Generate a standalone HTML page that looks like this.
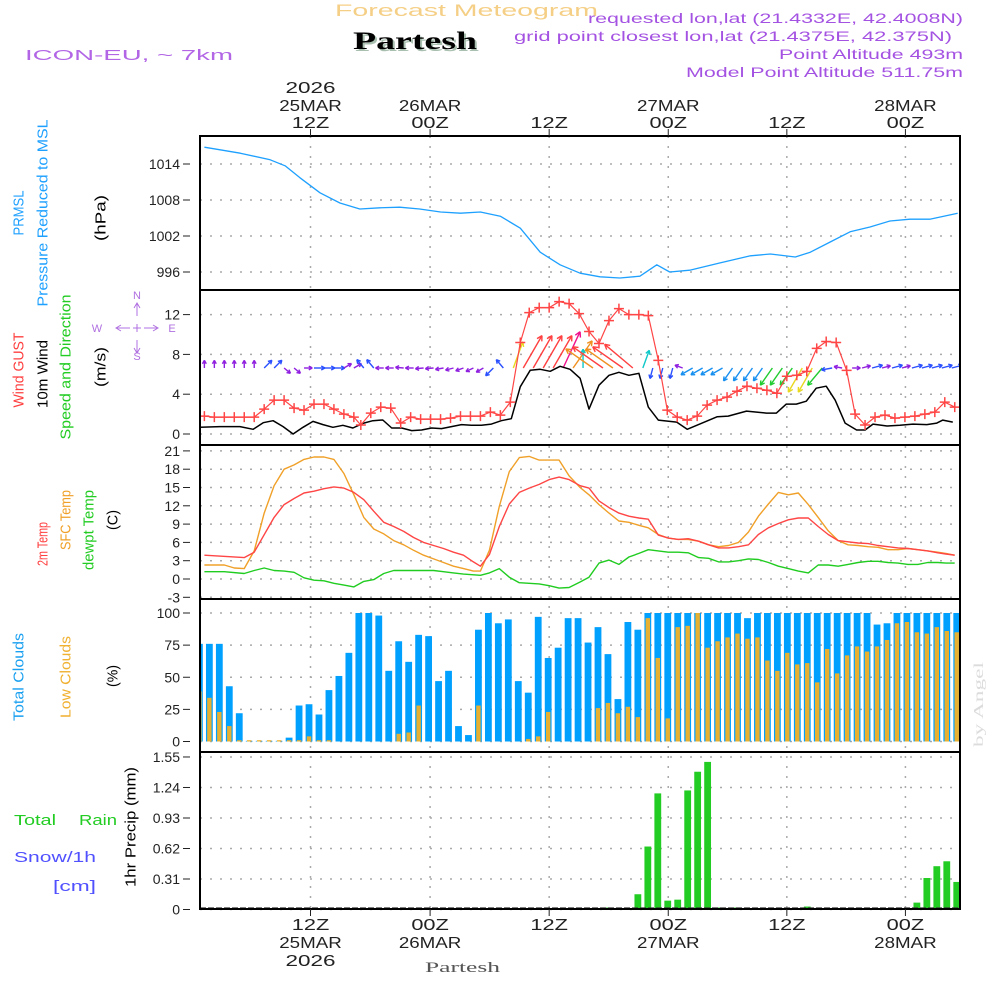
<!DOCTYPE html>
<html><head><meta charset="utf-8"><style>
html,body{margin:0;padding:0;background:#fff;}
svg{display:block;font-family:"Liberation Sans",sans-serif;}
</style></head><body>
<svg id="chart" width="1000" height="1000" viewBox="0 0 1000 1000" xmlns="http://www.w3.org/2000/svg">
<g>
<text x="335" y="16" font-size="17" fill="#f5cf86" textLength="263" lengthAdjust="spacingAndGlyphs">Forecast Meteogram</text>
<text x="355" y="51" font-size="25" font-weight="bold" font-family="Liberation Serif, serif" fill="#a9c0b0" textLength="124" lengthAdjust="spacingAndGlyphs">Partesh</text>
<text x="353" y="49" font-size="25" font-weight="bold" font-family="Liberation Serif, serif" fill="#000" textLength="124" lengthAdjust="spacingAndGlyphs">Partesh</text>
<text x="25" y="60" font-size="15" fill="#b266e6" textLength="208" lengthAdjust="spacingAndGlyphs">ICON-EU, ~ 7km</text>
<text x="588" y="23" font-size="14" fill="#a452e2" textLength="375" lengthAdjust="spacingAndGlyphs">requested lon,lat (21.4332E, 42.4008N)</text>
<text x="514" y="41" font-size="14" fill="#a452e2" textLength="438" lengthAdjust="spacingAndGlyphs">grid point closest lon,lat (21.4375E, 42.375N)</text>
<text x="779" y="59" font-size="14" fill="#a452e2" textLength="184" lengthAdjust="spacingAndGlyphs">Point Altitude 493m</text>
<text x="686" y="77" font-size="14" fill="#a452e2" textLength="277" lengthAdjust="spacingAndGlyphs">Model Point Altitude 511.75m</text>
</g>
<g id="grid"></g>
<g id="marks"></g>
<g id="frames"></g>
<g id="labels"></g>
</svg>
<script>
// ---- time axis (hour index) ----
const timeTickIdx = [11.15, 23.15, 35.1, 47.05, 58.95, 70.85];
const timeTop1 = ["2026","","","","",""];
const timeTop2 = ["25MAR","26MAR","","27MAR","","28MAR"];
const timeTop3 = ["12Z","00Z","12Z","00Z","12Z","00Z"];

// ---- pressure ----
const presIdx = [0.5,4.1,7.1,8.6,10.1,12.1,14.1,16.1,18.1,20.1,22.1,24.2,26.2,28.2,30.2,32.2,34.2,36.2,38.2,40.2,42.2,44.2,45.9,47.2,49.2,52.2,55.3,57.3,59.8,61.3,63.3,65.3,67.3,69.3,71.3,73.3,76.1];
const presVal = [1016.8,1015.8,1014.7,1013.7,1011.7,1009.2,1007.5,1006.5,1006.7,1006.8,1006.5,1006.0,1005.8,1006.0,1005.3,1003.3,999.3,997.2,995.8,995.2,995.0,995.3,997.2,996.0,996.3,997.5,998.7,999.0,998.5,999.3,1001.0,1002.7,1003.5,1004.5,1004.8,1004.8,1005.8];
const presTicks = [996,1002,1008,1014];

// ---- wind ----
const gustIdx = [0.5,1.5,2.5,3.5,4.5,5.5,6.5,7.5,8.5,9.5,10.5,11.5,12.5,13.5,14.5,15.5,16.2,17.2,18.2,19.2,20.2,21.2,22.2,23.2,24.2,25.2,26.2,27.2,28.2,29.2,30.2,31.2,32.2,33.1,34.1,35.1,36.1,37.1,38.1,39.1,40.1,41.1,42.1,43.1,44.1,45.05,46.05,46.95,47.95,48.95,49.95,50.95,51.95,52.95,53.95,54.95,55.95,56.95,57.95,58.95,59.95,60.95,61.95,62.9,63.9,64.95,65.8,66.8,67.8,68.8,69.8,70.8,71.8,72.8,73.8,74.8,75.8];
const gustVal = [1.8,1.7,1.7,1.7,1.7,1.7,2.5,3.4,3.4,2.6,2.4,3.0,3.0,2.5,2.0,1.7,0.9,2.1,2.7,2.6,1.1,1.7,1.5,1.5,1.5,1.6,1.8,1.8,1.8,2.2,1.9,3.2,9.2,12.2,12.7,12.7,13.3,13.1,12.1,10.3,9.1,11.4,12.6,12.0,12.0,11.9,7.4,2.4,1.7,1.4,1.8,2.9,3.4,3.7,4.3,4.8,4.6,4.4,4.1,5.8,5.9,6.3,8.6,9.3,9.2,6.4,2.0,0.9,1.7,1.9,1.6,1.7,1.8,2.0,2.2,3.2,2.7];
const windIdx = [0.06,2.07,4.07,5.4,6.4,7.4,8.4,9.4,10.4,11.4,12.4,13.4,14.4,15.4,16.4,17.4,18.4,19.3,20.3,21.3,22.3,23.3,24.3,25.3,26.3,27.3,28.3,29.3,30.3,31.3,32.2,33.2,34.2,35.2,36.2,37.2,38.2,39.1,40.1,41.1,42.1,43.1,44.1,45.05,46.05,47.9,48.95,51.97,53.07,54.9,56.9,57.9,58.9,59.9,60.9,61.9,62.9,63.8,64.8,65.95,66.8,67.6,69.0,70.3,71.6,73.0,74.0,74.6,75.6];
const windVal = [0.67,0.74,0.74,0.47,1.14,1.34,0.74,0.0,0.67,1.27,0.94,0.67,0.87,0.6,1.07,1.34,1.41,0.6,0.6,0.34,0.4,0.6,0.54,0.74,0.94,0.87,0.87,1.0,1.34,1.54,4.75,6.4,6.5,6.3,6.8,6.5,5.6,2.5,4.9,5.9,6.2,5.9,6.1,2.7,1.4,1.2,0.47,1.74,1.8,2.3,2.1,2.1,3.0,3.0,3.3,4.6,4.8,3.4,1.1,0.4,0.4,1.0,0.8,0.87,1.0,0.94,1.1,1.4,1.2];
const arrowDir = [0,0,0,0,0,0,45,45,130,130,90,90,90,90,60,60,320,320,270,270,275,270,265,265,260,255,250,245,240,225,320,20,30,30,30,30,25,35,0,305,305,305,305,310,20,195,195,195,290,240,240,240,240,215,215,215,215,215,215,215,210,210,220,260,280,90,75,75,75,75,75,75,75,75,75,75];
const arrowSpeed = [0.7,0.7,0.7,0.7,0.7,0.7,1.3,1.3,0.8,0.8,0.8,1.3,1.3,1.3,0.9,0.9,1.3,1.3,0.8,0.8,0.8,0.8,0.8,0.8,0.8,0.8,0.8,0.8,0.8,1.3,1.3,4.5,6.3,6.3,6.3,6.3,6.8,5.5,2.8,5.5,6.2,5.5,6.2,6.2,2.8,1.3,1.3,1.3,0.8,1.8,1.8,1.8,1.8,2.2,2.2,2.2,2.2,3.2,3.2,3.2,4.5,4.5,3.5,1.3,0.8,0.8,0.9,1.3,0.9,1.3,0.9,1.3,1.3,1.3,1.3,1.3];
const windTicks = [0,4,8,12];

// ---- temperature ----
const t2Idx = [0.5,4.5,5.5,7.5,8.5,9.5,10.5,11.5,12.5,13.5,14.5,15.5,16.5,17.5,18.5,19.5,20.5,21.5,22.5,23.5,24.5,25.5,26.5,27.5,28.2,29.1,30.1,31.1,32.1,33.1,34.1,35.1,36.1,37.1,38.2,39.1,40.1,41.1,42.1,43.1,44.1,45.05,46.05,47.05,48.05,49.05,50.1,51.1,52.1,53.1,54.1,55.1,56.1,57.1,58.1,59.1,60.1,61.1,62.1,63.1,64.1,65.1,66.1,67.1,68.1,69.1,70.1,71.1,72.1,73.1,74.1,74.9,75.8];
const t2Val = [3.9,3.5,4.4,10.1,12.2,13.2,14.1,14.4,14.8,15.1,14.9,14.2,13.0,11.1,9.3,8.6,7.8,6.8,6.0,5.5,5.0,4.4,3.9,2.8,2.1,4.0,8.6,12.3,14.2,14.9,15.5,16.3,16.7,16.3,15.3,14.9,12.8,11.7,10.8,10.3,10.0,9.8,7.2,6.7,6.5,6.6,6.2,5.6,5.1,5.1,5.3,5.6,7.3,8.4,9.1,9.7,10.0,10.0,8.6,7.3,6.3,6.1,5.9,5.8,5.5,5.3,5.1,5.0,4.8,4.6,4.3,4.1,3.9];
const sfcIdx = [0.5,2.5,3.5,4.5,5.5,6.5,7.5,8.5,9.5,10.5,11.5,12.5,13.5,14.5,15.5,16.5,17.5,18.5,19.5,20.5,21.5,22.5,23.5,24.5,25.5,26.5,27.5,28.2,29.1,30.1,31.1,32.1,33.1,34.1,35.1,36.1,37.1,38.2,39.1,40.1,41.1,42.1,43.1,44.1,45.05,46.05,47.05,48.05,49.05,50.1,51.1,52.1,53.1,54.1,55.1,56.1,57.1,58.1,59.1,60.1,61.1,62.1,63.1,64.1,65.1,66.1,67.1,68.1,69.1,70.1,71.1,72.1,73.1,74.1,74.9,75.8];
const sfcVal = [2.3,2.3,1.8,1.7,4.6,10.8,15.3,18.0,18.7,19.6,20.0,20.0,19.6,17.3,13.8,10.1,8.2,7.4,6.3,5.6,4.7,3.9,3.3,2.7,2.1,1.7,1.3,1.3,4.7,11.9,17.6,19.9,20.1,19.5,19.5,19.5,16.9,15.0,13.8,12.2,10.8,9.5,9.3,8.8,8.4,7.3,6.7,6.5,6.5,6.2,5.6,5.3,5.5,6.0,7.7,10.3,12.3,14.2,13.8,14.1,12.2,10.1,7.9,6.3,5.6,5.5,5.3,5.2,4.8,4.8,5.0,4.8,4.6,4.4,4.2,3.9];
const dewIdx = [0.5,2.5,4.5,5.5,6.5,7.5,8.5,9.5,10.5,11.5,12.5,13.5,14.5,15.5,16.5,17.5,18.5,19.5,23.5,24.5,25.5,26.5,28.2,29.1,30.1,31.1,32.1,33.1,34.1,35.1,36.1,37.1,38.2,39.1,40.1,41.1,42.1,43.1,44.1,45.05,46.05,47.05,48.05,49.05,50.1,51.1,52.1,53.1,54.1,55.1,56.1,57.1,58.1,59.1,60.1,61.1,62.1,63.1,64.1,65.1,66.1,67.1,68.1,69.1,70.1,71.1,72.1,73.1,74.1,74.9,75.8];
const dewVal = [1.2,1.2,0.9,1.4,1.8,1.4,1.3,1.1,0.2,-0.2,-0.3,-0.7,-1.0,-1.3,-0.4,-0.1,0.9,1.4,1.4,1.2,1.0,0.8,0.6,1.0,1.7,0.3,-0.6,-0.7,-0.8,-1.1,-1.5,-1.4,-0.5,0.3,2.6,3.1,2.4,3.6,4.2,4.8,4.6,4.4,4.4,4.3,3.5,3.4,2.8,2.8,3.0,3.3,3.2,2.7,2.1,1.7,1.3,1.0,2.3,2.3,2.1,2.4,2.7,2.9,2.9,2.7,2.6,2.4,2.4,2.7,2.7,2.6,2.6];
const tempTicks = [-3,0,3,6,9,12,15,18,21];

// ---- clouds (hourly bars i=0..76) ----
const totalClouds = [76,76,76,43,22,0.5,0.5,0.5,0.5,3,28,29,21,40,51,69,100,100,98,55,78,62,83,82,47,55,12,5,87,100,92,95,47,38,97,65,73,96,96,77,89,68,33,93,87,100,100,100,100,100,100,100,100,100,100,96,100,100,100,100,100,100,100,100,100,100,100,100,91,92,100,100,100,100,100,100,100];
const lowClouds = [39,34,23,12,1,1,1,1,1,1,1,4,1,1,0,0,0,0,0,0,6,7,28,0,0,0,0,0,28,0,0,0,0,2,4,23,0,0,0,0,26,30,22,27,19,96,65,18,89,90,100,73,78,81,84,80,81,63,55,69,60,61,46,72,53,67,74,70,74,79,92,93,85,84,89,86,85];
const cloudTicks = [0,25,50,75,100];

// ---- precipitation ----
const precip = [0,0,0,0,0,0,0,0,0,0,0,0,0,0,0,0,0,0,0,0,0,0,0,0,0,0,0,0,0,0,0,0,0,0,0,0,0,0,0,0,0,0.02,0,0.01,0.155,0.64,1.18,0.09,0.10,1.21,1.40,1.50,0.02,0,0.02,0,0,0,0,0,0,0.03,0,0,0,0,0,0,0,0,0,0,0.07,0.32,0.44,0.49,0.28];
const precipTicks = [0,0.31,0.62,0.93,1.24,1.55];
const precipTickLabels = ["0","0.31","0.62","0.93","1.24","1.55"];

// ---- scales ----
const X0 = 200, X1 = 960;
const xi = i => 199.4 + i*9.965;
const yP = p => 164 + (1014-p)*6;
const yW = v => 434 - v*9.95;
const yT = t => 579 - t*6.1;
const yC = c => 741.5 - c*1.285;
const yR = r => 909.5 - r*98.4;

const NS = "http://www.w3.org/2000/svg";
function mk(tag, attrs, parent){
  const e = document.createElementNS(NS, tag);
  for (const k in attrs) e.setAttribute(k, attrs[k]);
  parent.appendChild(e);
  return e;
}
const grid = document.getElementById('grid');
const marks = document.getElementById('marks');
const frames = document.getElementById('frames');
const labels = document.getElementById('labels');

const defs = mk('defs', {}, document.getElementById('chart'));
const cp = mk('clipPath', {id:'plotclip'}, defs);
mk('rect', {x:X0, y:136, width:X1-X0, height:774}, cp);
marks.setAttribute('clip-path', 'url(#plotclip)');

const panels = [
  {name:'pressure', top:136, bot:290, ticks:presTicks, lab:presTicks.map(String), y:yP},
  {name:'wind', top:290, bot:445, ticks:windTicks, lab:windTicks.map(String), y:yW},
  {name:'temperature', top:445, bot:599, ticks:tempTicks, lab:tempTicks.map(String), y:yT},
  {name:'clouds', top:599, bot:752, ticks:cloudTicks, lab:cloudTicks.map(String), y:yC},
  {name:'precip', top:752, bot:909, ticks:precipTicks, lab:precipTickLabels, y:yR}
];
panels.forEach(p => {
  p.ticks.forEach((t, k) => {
    const yy = p.y(t);
    const gl = mk('line', {x1:X0, x2:X1, y1:yy, y2:yy, stroke:'#aaa', 'stroke-width':1.5, 'stroke-dasharray':'2,8'}, grid);
    
    
    const tk = mk('line', {x1:183, x2:190, y1:yy, y2:yy, stroke:'#222', 'stroke-width':1}, labels);
    
    
    const tl = mk('text', {x:180, y:yy+5, 'font-size':14, fill:'#222', 'text-anchor':'end'}, labels);
    tl.textContent = p.lab[k];
    
    
  });
  const fr = mk('rect', {x:X0, y:p.top, width:X1-X0, height:p.bot-p.top, fill:'none', stroke:'#000', 'stroke-width':2}, frames);
  
  
});

function stretchText(str, x, y, size, color, len, name, parent){
  const t = mk('text', {x:x - len/2, y:y, 'font-size':size, fill:color, textLength:len, lengthAdjust:'spacingAndGlyphs'}, parent);
  t.textContent = str;
  
  
  return t;
}

timeTickIdx.forEach((ti, k) => {
  const x = xi(ti);
  const vl = mk('line', {x1:x, x2:x, y1:136, y2:909, stroke:'#aaa', 'stroke-width':1.5, 'stroke-dasharray':'2,8'}, grid);
  
  
  mk('line', {x1:x, x2:x, y1:129, y2:136, stroke:'#222'}, labels);
  mk('line', {x1:x, x2:x, y1:909, y2:916, stroke:'#222'}, labels);
  const rows = [[timeTop1[k], 93], [timeTop2[k], 111], [timeTop3[k], 128]];
  rows.forEach(r => {
    if (!r[0]) return;
    stretchText(r[0], x, r[1], 16, '#222', r[0].length*12.5, 'time-label-top', labels);
  });
  const brows = [[timeTop3[k], 930], [timeTop2[k], 948], [timeTop1[k], 966]];
  brows.forEach(r => {
    if (!r[0]) return;
    stretchText(r[0], x, r[1], 16, '#222', r[0].length*12.5, 'time-label-bottom', labels);
  });
});

function line(idx, vals, yf, color, w, name){
  const d = idx.map((i, k) => (k ? 'L' : 'M') + xi(i).toFixed(1) + ',' + yf(vals[k]).toFixed(1)).join('');
  const p = mk('path', {d:d, fill:'none', stroke:color, 'stroke-width':w, 'stroke-linejoin':'round'}, marks);
  
  
  return p;
}

line(presIdx, presVal, yP, '#1ea0ff', 1.3, 'pressure-line');

totalClouds.forEach((v, i) => {
  const x = xi(i);
  const r = mk('rect', {x:x-3.4, y:yC(v), width:6.8, height:yC(0)-yC(v), fill:'#00a0ff'}, marks);
  
  
});
lowClouds.forEach((v, i) => {
  if (v <= 0) return;
  const x = xi(i);
  const r = mk('rect', {x:x-2.2, y:yC(v), width:4.4, height:yC(0)-yC(v), fill:'#e8b030'}, marks);
  
  
});

precip.forEach((v, i) => {
  if (v <= 0) return;
  const x = xi(i);
  const r = mk('rect', {x:x-3.4, y:yR(v), width:6.8, height:yR(0)-yR(v), fill:'#22cc22'}, marks);
  
  
});
const base = mk('line', {x1:X0, x2:X1, y1:908, y2:908, stroke:'#333', 'stroke-width':1.2, 'stroke-dasharray':'6,2'}, marks);



line(dewIdx, dewVal, yT, '#20cc20', 1.4, 'dewpoint-line');
line(sfcIdx, sfcVal, yT, '#f0a028', 1.4, 'sfc-temp-line');
line(t2Idx, t2Val, yT, '#ff4545', 1.4, 'temp-2m-line');

function spdColor(s){
  if (s < 1.1) return '#9020e0';
  if (s < 1.6) return '#2a50ff';
  if (s < 2.5) return '#1890f0';
  if (s < 3.0) return '#10c8c8';
  if (s < 4.0) return '#20cc30';
  if (s < 5.0) return '#e8d820';
  if (s < 6.0) return '#f09020';
  if (s < 6.6) return '#ff4040';
  return '#f0108c';
}
arrowDir.forEach((dir, k) => {
  const s = arrowSpeed[k];
  const len = 4 + 5.3*s;
  const a = dir*Math.PI/180;
  const x0 = xi(k+0.5), y0 = 368;
  const x1 = x0 + len*Math.sin(a), y1 = y0 - len*Math.cos(a);
  const h = Math.min(6, 3.5 + len*0.06);
  const c = spdColor(s);
  const g = mk('g', {stroke:c, 'stroke-width':1.4, fill:'none'}, marks);
  
  
  mk('line', {x1:x0, y1:y0, x2:x1, y2:y1}, g);
  [-0.5, 0.5].forEach(da => {
    const b = a + Math.PI + da;
    mk('line', {x1:x1, y1:y1, x2:x1 + h*Math.sin(b), y2:y1 - h*Math.cos(b)}, g);
  });
});
line(windIdx, windVal, yW, '#000', 1.5, 'wind-speed-line');
line(gustIdx, gustVal, yW, '#ff4545', 1.2, 'wind-gust-line');
gustIdx.forEach((i, k) => {
  const x = xi(i), y = yW(gustVal[k]);
  const g = mk('path', {d:`M${x-5},${y}H${x+5}M${x},${y-5}V${y+5}`, stroke:'#ff4545', 'stroke-width':1.5}, marks);
  
  
});

// rotated side labels: [text, cx, cy, color, length, name]
const sideLabels = [
  ['PRMSL', 18, 213, '#1ea0ff', 45, 'prmsl-label'],
  ['Pressure Reduced to MSL', 42, 213, '#1ea0ff', 187, 'pressure-label'],
  ['(hPa)', 100, 218, '#000', 46, 'pressure-unit'],
  ['Wind GUST', 18, 370, '#ff4040', 75, 'gust-label'],
  ['10m Wind', 42, 374, '#000', 68, 'wind-label'],
  ['Speed and Direction', 65, 367, '#22cc22', 145, 'speed-direction-label'],
  ['(m/s)', 100, 367, '#000', 40, 'wind-unit'],
  ['2m Temp', 42, 544, '#ff4040', 44, 'temp-2m-label'],
  ['SFC Temp', 65, 520, '#f0a028', 60, 'sfc-temp-label'],
  ['dewpt Temp', 88, 530, '#22cc22', 80, 'dewpoint-label'],
  ['(C)', 112, 520, '#000', 20, 'temp-unit'],
  ['Total Clouds', 18, 677, '#1aa0f0', 88, 'total-clouds-label'],
  ['Low Clouds', 65, 677, '#f0b030', 82, 'low-clouds-label'],
  ['(%)', 112, 676, '#000', 22, 'clouds-unit'],
  ['1hr Precip (mm)', 130, 827, '#000', 120, 'precip-label']
];
sideLabels.forEach(s => {
  const g = mk('g', {transform:`translate(${s[1]} ${s[2]}) rotate(-90)`}, labels);
  
  
  stretchText(s[0], 0, 5.5, 15, s[3], s[4], s[5], g);
});
const flat = [
  ['Total', 14, 825, '#22cc22', 42, 'total-label'],
  ['Rain', 79, 825, '#22cc22', 38, 'rain-label'],
  ['Snow/1h', 14, 862, '#5050ff', 82, 'snow-label'],
  ['[cm]', 53, 891, '#5050ff', 43, 'snow-unit'],
  ['Partesh', 425, 972, '#555', 75, 'bottom-location-label']
];
flat.forEach(s => {
  const t = mk('text', {x:s[1], y:s[2], 'font-size':15, fill:s[3], textLength:s[4], lengthAdjust:'spacingAndGlyphs'}, labels);
  if (s[5] === 'bottom-location-label') t.setAttribute('font-family', 'Liberation Serif, serif');
  t.textContent = s[0];
  
  
});
const comp = mk('g', {stroke:'#b070e0', 'stroke-width':1, fill:'none'}, labels);


mk('path', {d:'M117,328H130M144,328H157M137,304V316M137,340V352M121,325L116,328L121,331M153,325L158,328L153,331M134,308L137,303L140,308M134,348L137,353L140,348M133,328H141M137,324V332'}, comp);
[['N',137,299],['S',137,360],['W',97,332],['E',172,332]].forEach(c => {
  const t = mk('text', {x:c[1], y:c[2], 'font-size':11, fill:'#b070e0', 'text-anchor':'middle'}, labels);
  t.textContent = c[0];
  
  
});
const wmg = mk('g', {transform:'translate(978 705) rotate(-90)'}, labels);


const wm = mk('text', {x:-42, y:5, 'font-size':14, fill:'#dcdcdc', 'font-family':'Liberation Serif, serif', textLength:85, lengthAdjust:'spacingAndGlyphs'}, wmg);
wm.textContent = 'by Angel';


</script>
</body></html>
